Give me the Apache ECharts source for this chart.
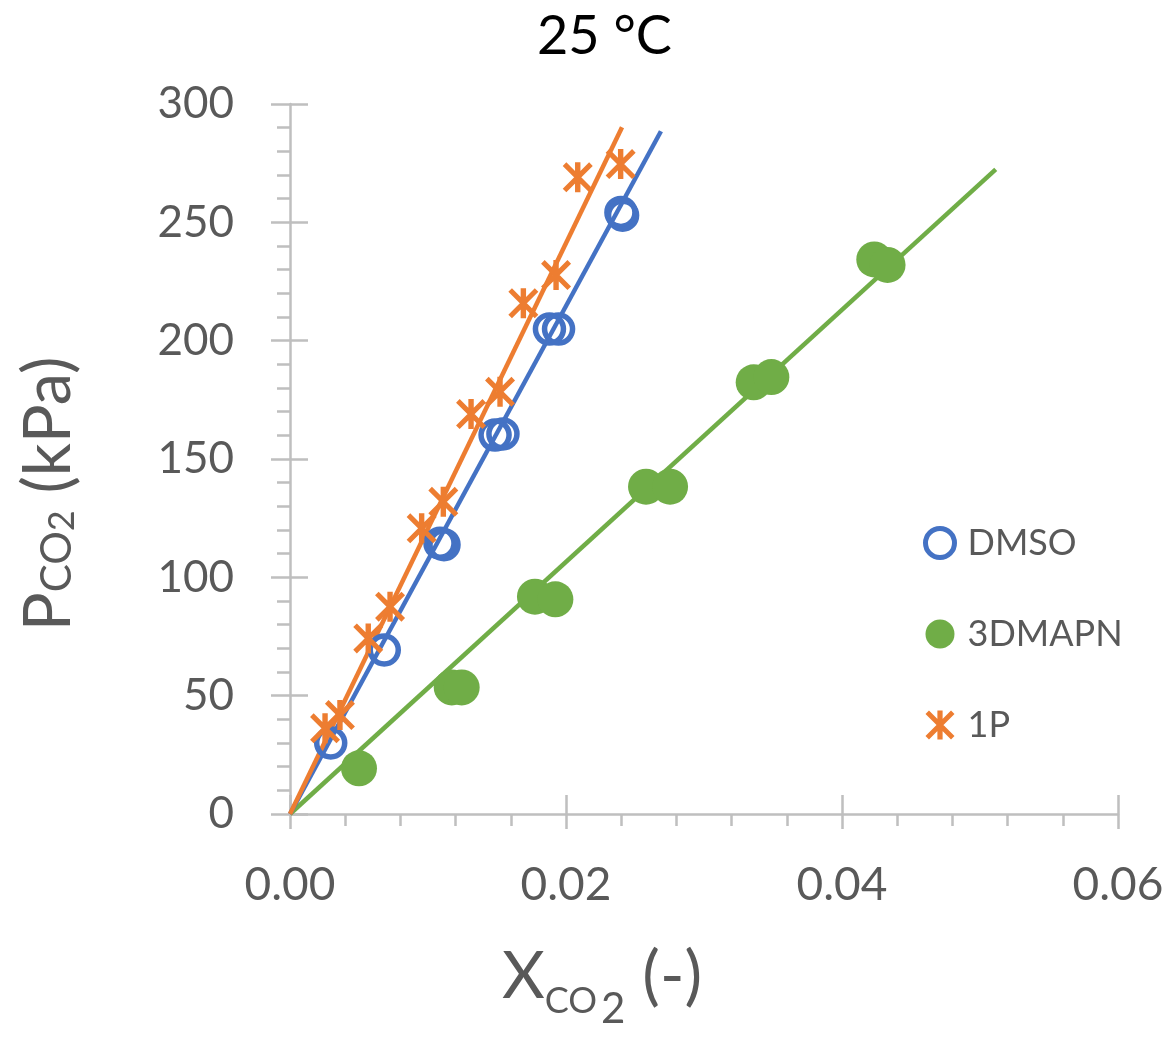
<!DOCTYPE html>
<html><head><meta charset="utf-8">
<script src="https://cdn.jsdelivr.net/npm/echarts@6/dist/echarts.min.js"></script>
<style>html,body{margin:0;padding:0;background:#fff}#c{width:1170px;height:1040px}</style>
</head><body><div id="c"></div>
<script>
// ---- data ----
const titleText = '25 °C';
const seriesNames = ['DMSO', '3DMAPN', '1P'];
const xTickValues = [0, 0.02, 0.04, 0.06];
const yTickValues = [0, 50, 100, 150, 200, 250, 300];

const dmsoX = [0.00295, 0.00683, 0.01087, 0.01116, 0.01486, 0.01543, 0.0188, 0.01946, 0.02398, 0.0241];
const dmsoY = [30.0, 69.3, 114.4, 113.8, 160.1, 160.6, 204.9, 204.9, 254.2, 253.0];

const dmapnX = [0.0050, 0.01172, 0.01244, 0.01775, 0.01923, 0.0258, 0.02754, 0.0336, 0.03488, 0.04234, 0.0433];
const dmapnY = [19.3, 53.5, 53.5, 91.8, 90.7, 138.3, 138.3, 182.4, 184.6, 234.3, 232.0];

const p1X = [0.00254, 0.00362, 0.00567, 0.00725, 0.00954, 0.01111, 0.01312, 0.01522, 0.01691, 0.01928, 0.02085, 0.02396];
const p1Y = [36.2, 41.8, 74.2, 87.6, 120.7, 131.9, 169.0, 178.4, 215.8, 227.7, 269.0, 274.6];

// fitted lines (start / end points)
const dmsoFitX = [0, 0.02688];
const dmsoFitY = [0, 288.5];
const dmapnFitX = [0, 0.05114];
const dmapnFitY = [0, 272.4];
const p1FitX = [0, 0.02406];
const p1FitY = [0, 290.2];

// ---- styling ----
const AX = '#BFBFBF', TXT = '#595959', FONT = 'Lato';
const BLUE = '#4472C4', GREEN = '#70AD47', ORANGE = '#ED7D31';
const STAR = 'path://M41 0L59 0L59 100L41 100Z M0 12L12 0L100 88L88 100Z M88 0L100 12L12 100L0 88Z';
const zip = (a, b) => a.map((v, i) => [v, b[i]]);
const axLine = {color: AX, width: 2.5};
const step = (arr) => arr[1] - arr[0];

const chart = echarts.init(document.getElementById('c'), null, {renderer: 'canvas'});
const option = {
  animation: false,
  backgroundColor: '#fff',
  title: {
    text: titleText, left: 532, top: 5,
    textStyle: {fontFamily: FONT, fontSize: 54, fontWeight: 'normal', color: '#000'}
  },
  grid: {left: 290, right: 52, top: 104, bottom: 226, outerBoundsMode: 'none', containLabel: false},
  legend: {
    orient: 'vertical', left: 918, top: 520, itemWidth: 45, itemHeight: 29, itemGap: 55,
    textStyle: {fontFamily: FONT, fontSize: 36, color: TXT},
    data: [
      {name: seriesNames[0], itemStyle: {borderWidth: 5, borderColor: BLUE}},
      {name: seriesNames[1]},
      {name: seriesNames[2]}
    ]
  },
  xAxis: [
    {
      type: 'value', min: xTickValues[0], max: xTickValues[xTickValues.length - 1], interval: step(xTickValues),
      position: 'bottom',
      axisLine: {show: true, onZero: false, lineStyle: axLine},
      axisTick: {show: true, inside: false, length: 15, lineStyle: axLine},
      minorTick: {show: true, splitNumber: 5, length: 12, lineStyle: axLine},
      splitLine: {show: false}, minorSplitLine: {show: false},
      axisLabel: {formatter: v => v.toFixed(2), fontFamily: FONT, fontSize: 46, color: TXT, margin: 48},
      name: '{big|X}{sub|CO}{sub2|2}{big| (-)}',
      nameLocation: 'middle', nameGap: 110,
      nameTextStyle: {
        padding: [0, 204, 0, 0],
        rich: {
          big: {fontFamily: FONT, fontSize: 66, color: TXT},
          sub: {fontFamily: FONT, fontSize: 36, color: TXT, padding: [48, 0, 0, 0]},
          sub2: {fontFamily: FONT, fontSize: 42, color: TXT, padding: [64, 0, 0, 4]}
        }
      }
    },
    {
      type: 'value', min: xTickValues[0], max: xTickValues[xTickValues.length - 1], interval: step(xTickValues),
      position: 'bottom',
      axisLine: {show: false, onZero: false},
      axisTick: {show: true, inside: true, length: 19, lineStyle: axLine},
      axisLabel: {show: false}, splitLine: {show: false}
    }
  ],
  yAxis: [
    {
      type: 'value', min: yTickValues[0], max: yTickValues[yTickValues.length - 1], interval: step(yTickValues),
      position: 'left',
      axisLine: {show: true, onZero: false, lineStyle: axLine},
      axisTick: {show: true, inside: false, length: 19, lineStyle: axLine},
      minorTick: {show: true, splitNumber: 5, length: 13, lineStyle: axLine},
      splitLine: {show: false}, minorSplitLine: {show: false},
      axisLabel: {fontFamily: FONT, fontSize: 44, color: TXT, margin: 56},
      name: '{big|P}{sub|CO}{sub2|2}{big| (kPa)}',
      nameLocation: 'middle', nameGap: 208,
      nameTextStyle: {
        padding: [0, 70, 0, 0],
        rich: {
          big: {fontFamily: FONT, fontSize: 65, color: TXT},
          sub: {fontFamily: FONT, fontSize: 42, color: TXT, padding: [16, 0, 0, 0]},
          sub2: {fontFamily: FONT, fontSize: 36, color: TXT, padding: [26, 0, 0, 0]}
        }
      }
    },
    {
      type: 'value', min: yTickValues[0], max: yTickValues[yTickValues.length - 1], interval: step(yTickValues),
      position: 'left',
      axisLine: {show: false, onZero: false},
      axisTick: {show: true, inside: true, length: 18, lineStyle: axLine},
      axisLabel: {show: false}, splitLine: {show: false}
    }
  ],
  series: [
    {type: 'line', data: zip(dmapnFitX, dmapnFitY), symbol: 'none', silent: true, z: 2,
     lineStyle: {color: GREEN, width: 4.5}},
    {type: 'line', data: zip(dmsoFitX, dmsoFitY), symbol: 'none', silent: true, z: 2,
     lineStyle: {color: BLUE, width: 4.5}},
    {type: 'line', data: zip(p1FitX, p1FitY), symbol: 'none', silent: true, z: 2,
     lineStyle: {color: ORANGE, width: 4.5}},
    {name: seriesNames[0], type: 'scatter', data: zip(dmsoX, dmsoY), symbol: 'circle', symbolSize: 28, z: 3,
     itemStyle: {color: 'rgba(255,255,255,0)', borderColor: BLUE, borderWidth: 5.5, opacity: 1}},
    {name: seriesNames[1], type: 'scatter', data: zip(dmapnX, dmapnY), symbol: 'circle', symbolSize: 36, z: 3,
     itemStyle: {color: GREEN, opacity: 1}},
    {name: seriesNames[2], type: 'scatter', data: zip(p1X, p1Y), symbol: STAR, symbolSize: 30, z: 3,
     itemStyle: {color: ORANGE, opacity: 1}}
  ]
};
chart.setOption(option);
</script>
</body></html>
